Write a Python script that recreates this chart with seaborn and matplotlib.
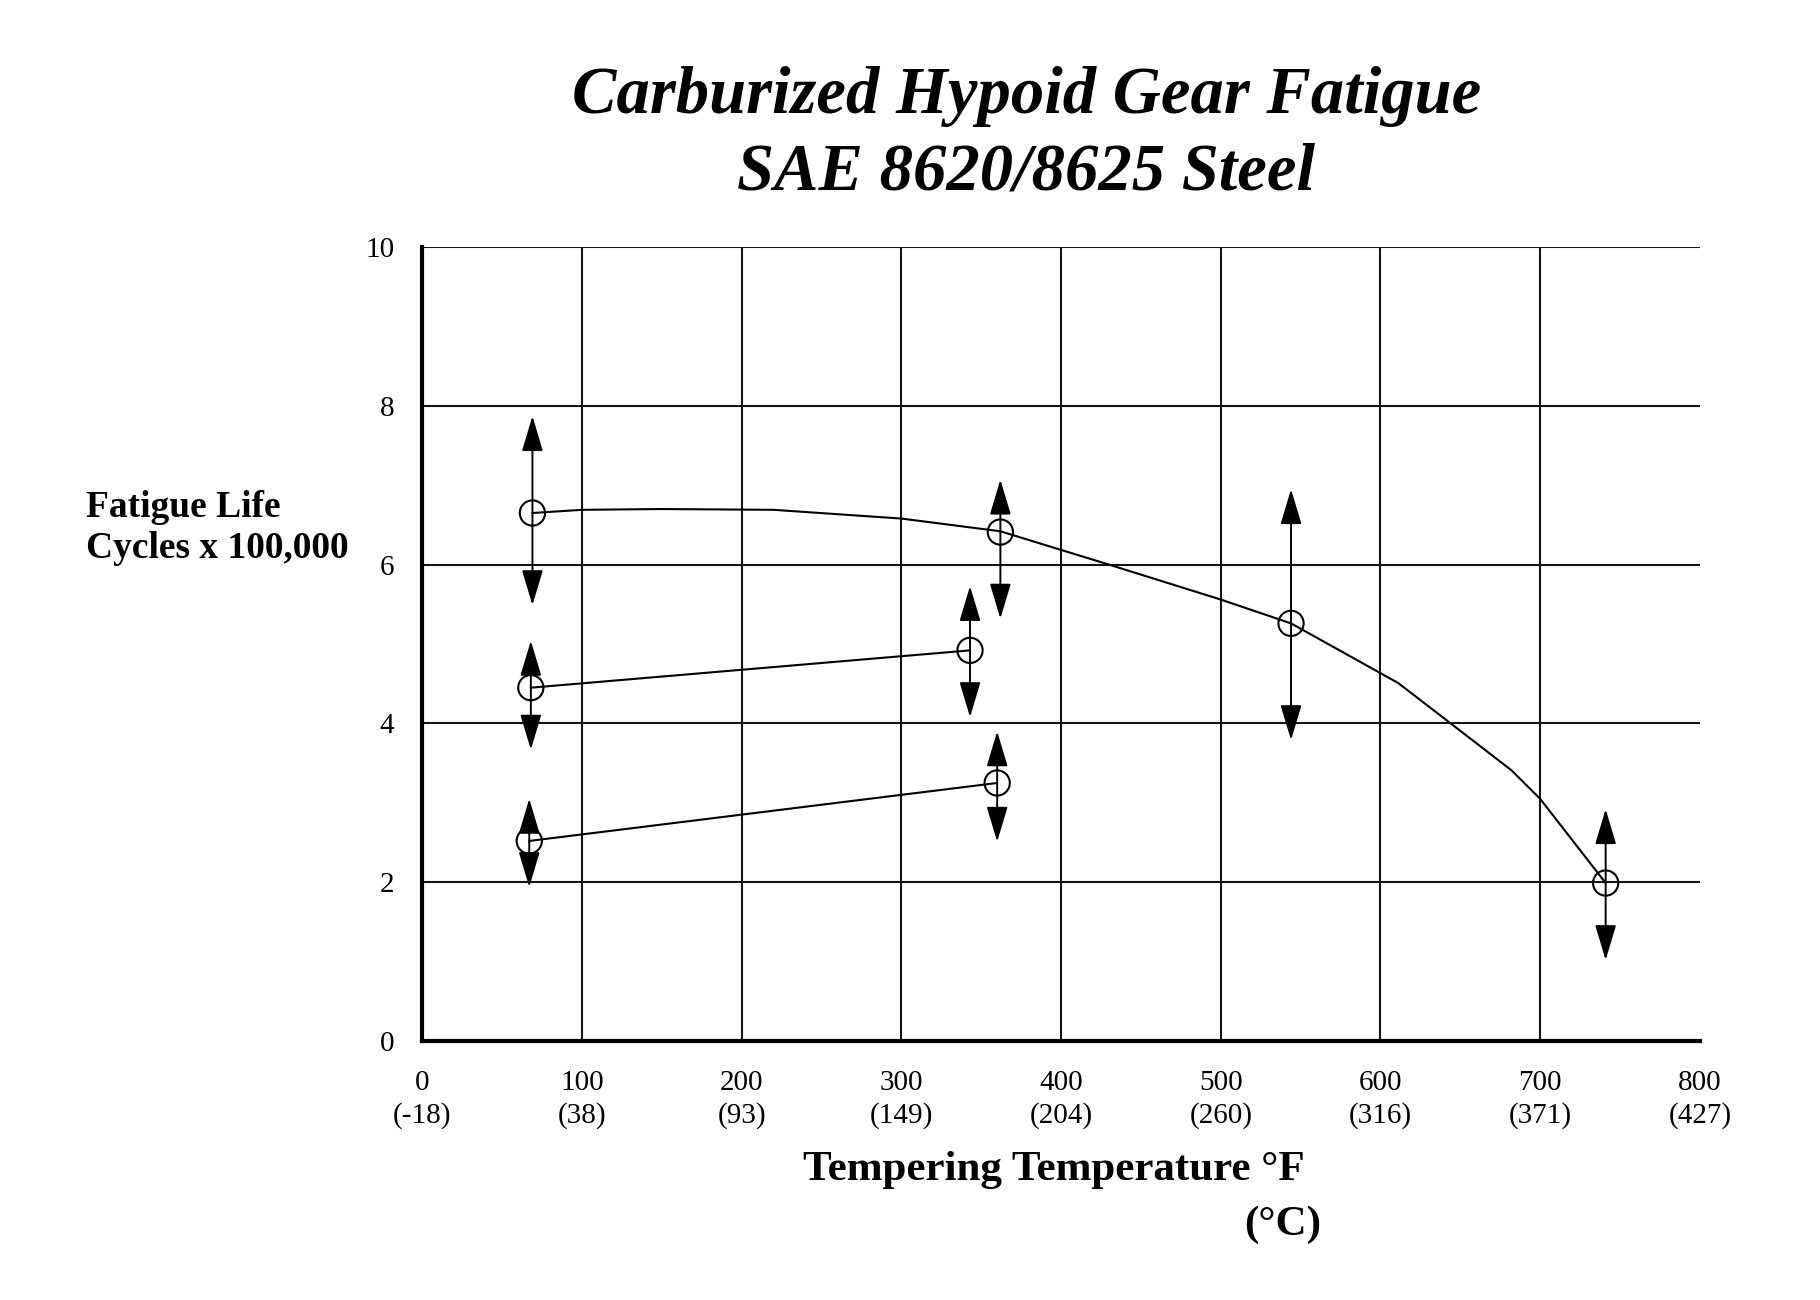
import matplotlib
matplotlib.use("Agg")
import matplotlib.pyplot as plt
import seaborn as sns
import pandas as pd

# Tempering temperature (F) and fatigue life (cycles x 100,000)
upper_temp = [69, 362, 544, 741]
upper_life = [6.65, 6.41, 5.26, 1.99]
upper_hi = [7.87, 7.07, 6.95, 2.92]
upper_lo = [5.49, 5.32, 3.79, 1.02]

# hand-drawn trend curve through the upper group
upper_fit_temp = [69, 100, 150, 220, 300, 362, 430, 500, 544, 611, 644, 682, 700, 741]
upper_fit_life = [6.65, 6.69, 6.70, 6.69, 6.58, 6.42, 6.00, 5.56, 5.26, 4.51, 4.00, 3.41, 3.05, 1.99]

middle_temp = [68, 343]
middle_life = [4.45, 4.92]
middle_hi = [5.04, 5.73]
middle_lo = [3.67, 4.08]

lower_temp = [67, 360]
lower_life = [2.52, 3.25]
lower_hi = [3.05, 3.90]
lower_lo = [1.94, 2.51]

x_ticks = [0, 100, 200, 300, 400, 500, 600, 700, 800]
x_tick_c = ["-18", "38", "93", "149", "204", "260", "316", "371", "427"]
y_ticks = [0, 2, 4, 6, 8, 10]

sns.set_style("white")
plt.rcParams["font.family"] = ["Liberation Serif", "DejaVu Serif"]
plt.rcParams["text.color"] = "black"
plt.rcParams["xtick.labelcolor"] = "black"
plt.rcParams["ytick.labelcolor"] = "black"

fig = plt.figure(figsize=(18.2, 13), dpi=100)
ax = fig.add_axes([0.232, 0.1992, 0.702, 0.6108])

grid_col = "#151515"

# trend lines
sns.lineplot(x=upper_fit_temp, y=upper_fit_life, sort=False, color="k", lw=1.5, ax=ax, zorder=3)
sns.lineplot(x=middle_temp, y=middle_life, sort=False, color="k", lw=1.5, ax=ax, zorder=3)
sns.lineplot(x=lower_temp, y=lower_life, sort=False, color="k", lw=1.5, ax=ax, zorder=3)

# scatter bands as double-headed arrows
groups = [
    (upper_temp, upper_life, upper_hi, upper_lo),
    (middle_temp, middle_life, middle_hi, middle_lo),
    (lower_temp, lower_life, lower_hi, lower_lo),
]
for temps, life, hi, lo in groups:
    for t, h, l in zip(temps, hi, lo):
        ax.annotate("", xy=(t, h), xytext=(t, l),
                    arrowprops=dict(arrowstyle="<|-|>,head_length=1.1,head_width=0.33",
                                    mutation_scale=20, lw=1.4, color="k",
                                    shrinkA=0, shrinkB=0),
                    zorder=4)
    df = pd.DataFrame({"temp": temps, "life": life})
    sns.scatterplot(data=df, x="temp", y="life", marker="o", s=330,
                    facecolor="none", edgecolor="k", linewidth=1.5, ax=ax, zorder=5)

ax.set_xlim(0, 800)
ax.set_ylim(0, 10)
ax.set_xticks(x_ticks)
ax.set_xticklabels([f"{f}\n({c})" for f, c in zip(x_ticks, x_tick_c)], linespacing=1.3)
ax.set_yticks(y_ticks)
ax.set_yticklabels([str(v) for v in y_ticks])
ax.tick_params(axis="both", direction="out", length=14, width=1.4, color=grid_col,
               labelsize=21, pad=6)
ax.tick_params(axis="x", pad=7)

ax.grid(True, color=grid_col, lw=1.5, zorder=0)
ax.set_axisbelow(True)
# no vertical line or tick at the 800 edge
ax.xaxis.get_gridlines()[-1].set_visible(False)
ax.xaxis.get_major_ticks()[-1].tick1line.set_visible(False)

for side in ["top", "right"]:
    ax.spines[side].set_visible(False)
for side in ["left", "bottom"]:
    ax.spines[side].set_linewidth(3)
    ax.spines[side].set_color("k")
ax.set_xlabel("")
ax.set_ylabel("")

# titles and axis labels
fig.text(0.564, 0.913, "Carburized Hypoid Gear Fatigue", ha="center", va="baseline",
         fontsize=48, fontweight="bold", fontstyle="italic")
fig.text(0.564, 0.8546, "SAE 8620/8625 Steel", ha="center", va="baseline",
         fontsize=48, fontweight="bold", fontstyle="italic")

fig.text(0.047, 0.594, "Fatigue Life\nCycles x 100,000", ha="left", va="center",
         fontsize=27, fontweight="bold", linespacing=1.2)

fig.text(0.579, 0.10, "Tempering Temperature \u00b0F", ha="center", va="center",
         fontsize=31, fontweight="bold")
fig.text(0.705, 0.0577, "(\u00b0C)", ha="center", va="center",
         fontsize=31, fontweight="bold")

fig.savefig("out.png", dpi=100, facecolor="white")
